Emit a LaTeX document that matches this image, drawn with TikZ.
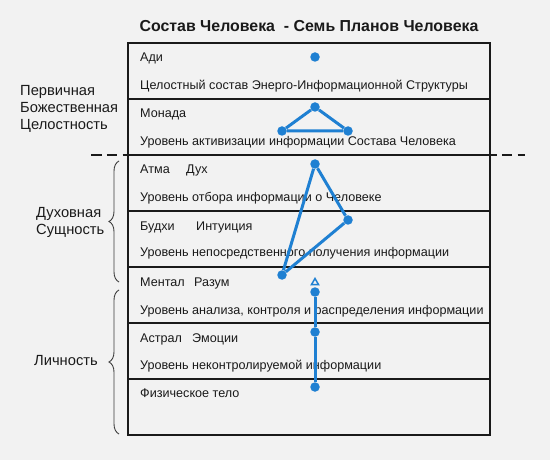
\documentclass[tikz,border=0pt]{standalone}
\usepackage{fontspec}
\setmainfont{Liberation Sans}
\usetikzlibrary{decorations.pathreplacing,shapes.geometric}
\definecolor{bg}{HTML}{F2F2F2}
\definecolor{blu}{HTML}{1F80D2}
\definecolor{ink}{HTML}{1A1A1A}
\begin{document}
\begin{tikzpicture}[x=1pt,y=-1pt,
  rowbox/.style={draw=ink, line width=2pt, minimum width=362pt, minimum height=56pt, inner sep=0pt, outer sep=0pt},
  lbl/.style={anchor=base west, inner sep=0pt, font=\fontsize{12.6}{14}\selectfont, text=ink},
  side/.style={anchor=base west, inner sep=0pt, font=\fontsize{14.7}{17}\selectfont, text=ink, align=left},
  dot/.style={circle, fill=blu, minimum size=9.5pt, inner sep=0pt},
  bl/.style={draw=blu, line width=3pt},
  brc/.style={draw=ink!85, line width=0.9pt, decorate, decoration={brace, amplitude=10pt}}
]
\fill[bg] (0,0) rectangle (550,460);
\useasboundingbox (0,0) rectangle (550,460);

\node[anchor=base, font=\bfseries\fontsize{15.9}{18}\selectfont, text=ink, inner sep=0pt] (title) at (309,31.5) {Состав Человека\ \ - Семь Планов Человека};

\node[rowbox] (r1) at (309,71) {};
\node[rowbox] (r2) at (309,127) {};
\node[rowbox] (r3) at (309,183) {};
\node[rowbox] (r4) at (309,239) {};
\node[rowbox] (r5) at (309,295) {};
\node[rowbox] (r6) at (309,351) {};
\node[rowbox] (r7) at (309,407) {};

\node[lbl] (l1) at (140,62) {Ади};
\node[lbl] (d1) at (140,90) {Целостный состав Энерго-Информационной Структуры};
\node[lbl] (l2) at (140,118) {Монада};
\node[lbl] (d2) at (140,146) {Уровень активизации информации Состава Человека};
\node[lbl] (l3) at (140,174) {\makebox[46pt][l]{Атма}Дух};
\node[lbl] (d3) at (140,202) {Уровень отбора информации о Человеке};
\node[lbl] (l4) at (140,230) {\makebox[56pt][l]{Будхи}Интуиция};
\node[lbl] (d4) at (140,256) {Уровень непосредственного получения информации};
\node[lbl] (l5) at (140,286) {\makebox[54pt][l]{Ментал}Разум};
\node[lbl] (d5) at (140,314) {Уровень анализа, контроля и распределения информации};
\node[lbl] (l6) at (140,342.5) {\makebox[52pt][l]{Астрал}Эмоции};
\node[lbl] (d6) at (140,369) {Уровень неконтролируемой информации};
\node[lbl] (l7) at (140,397) {Физическое тело};

\node[side] (s1) at (20,129.3) {Первичная\\Божественная\\Целостность};
\node[side] (s2) at (36,234) {Духовная\\Сущность};
\node[side] (s3) at (34,365.7) {Личность};

\coordinate (b1s) at (119,282);
\coordinate (b1e) at (119,161);
\draw[brc] (b1s) -- (b1e);
\coordinate (b2s) at (119,434);
\coordinate (b2e) at (119,290);
\draw[brc] (b2s) -- (b2e);

\coordinate (dl) at (91,155);
\coordinate (dr) at (525,155);
\draw[line width=2pt, draw=ink, dash pattern=on 10.5pt off 5.3pt] (dl) -- (dr);

\node[dot] (p1) at (315,57) {};

\node[dot] (m1) at (315,107) {};
\node[dot] (m2) at (282,131) {};
\node[dot] (m3) at (348,131) {};
\draw[bl] (m1) -- (m2) -- (m3) -- (m1);

\node[dot] (a1) at (315,164) {};
\node[dot] (a2) at (348,220) {};
\node[dot] (a3) at (282,275) {};
\draw[bl] (a1) -- (a2) -- (a3) -- (a1);

\node[regular polygon, regular polygon sides=3, draw=blu, line width=1.5pt, minimum size=8pt, inner sep=0pt] (tri) at (315,282.5) {};

\node[dot] (v1) at (315,292) {};
\node[dot] (v2) at (315,332) {};
\node[dot] (v3) at (315,387) {};
\draw[bl] (v1) -- (v2) -- (v3);
\end{tikzpicture}
\end{document}
